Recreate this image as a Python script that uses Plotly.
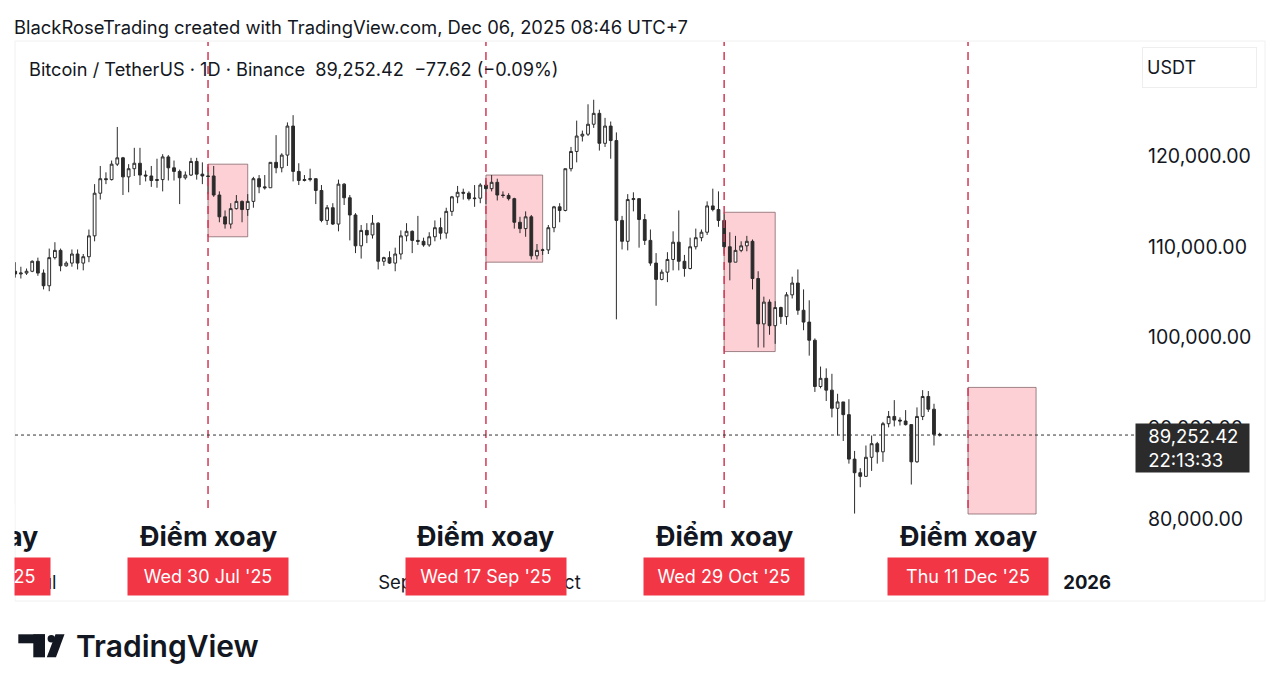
import pandas as pd
import plotly.graph_objects as go

# daily BTC/USDT candles (thousands of USDT), 26 Jun 2025 -> 6 Dec 2025
dates = pd.date_range("2025-06-26", "2025-12-06", freq="D")

open_k = [
    # Jun 26-30
    107.3, 107.0, 107.1, 107.3, 108.4,
    # Jul
    107.1, 105.7, 108.8, 109.6, 107.9, 108.2, 109.2, 108.2, 108.9, 111.2, 115.9, 117.5, 117.4, 119.1, 119.8, 117.7,
    118.6, 119.2, 117.9, 117.8, 117.3, 117.4, 119.9, 118.7, 118.3, 117.6, 117.9, 119.4, 118.0, 117.8, 117.8,
    # Aug
    115.7, 113.3, 112.5, 114.2, 115.0, 114.1, 115.0, 117.5, 116.6, 116.5, 119.3, 118.7, 120.1, 123.3, 118.3, 117.3,
    117.4, 117.5, 116.2, 112.9, 114.3, 112.5, 116.9, 115.4, 113.5, 110.1, 111.8, 111.3, 112.6, 108.4, 108.8,
    # Sep
    108.2, 109.2, 111.2, 111.7, 110.7, 110.6, 110.2, 111.1, 112.1, 111.5, 113.9, 115.5, 116.0, 115.9, 115.3,
    115.35, 116.8, 116.4, 117.1, 115.7, 115.65, 115.3, 112.7, 112.0, 113.3, 109.0, 109.6, 109.65, 112.1, 114.4,
    # Oct
    114.0, 118.6, 120.5, 122.2, 122.4, 123.5, 124.7, 121.4, 123.3, 121.7, 112.9, 110.6, 115.2, 115.3, 113.0, 110.7,
    108.2, 106.4, 107.2, 108.6, 110.5, 108.4, 107.6, 110.0, 111.0, 111.6, 114.5, 114.1, 112.9, 110.0, 108.3,
    # Nov
    109.6, 110.1, 110.6, 106.5, 101.5, 103.9, 101.3, 103.3, 102.3, 104.7, 106.0, 103.0, 101.7, 99.7, 94.6,
    95.5, 94.2, 92.2, 92.9, 91.5, 86.6, 85.1, 84.7, 86.8, 88.3, 87.4, 90.5, 91.3, 90.9, 90.8,
    # Dec 1-6
    90.4, 86.3, 91.3, 93.5, 92.1, 89.33004,
]
high_k = [
    108.3, 107.8, 107.6, 108.5, 108.8,
    107.5, 109.8, 110.5, 109.8, 108.4, 109.7, 109.7, 109.2, 111.9, 116.9, 118.9, 118.2, 119.5, 123.2, 119.9, 119.1,
    120.9, 120.9, 118.4, 118.9, 119.7, 120.2, 120.1, 119.5, 118.5, 118.3, 119.8, 119.8, 119.3, 118.8, 118.9,
    116.1, 114.0, 114.8, 115.7, 115.1, 115.8, 117.7, 117.9, 117.9, 119.3, 122.3, 120.3, 123.7, 124.5, 119.2, 117.9,
    118.6, 117.5, 116.8, 114.6, 114.8, 117.4, 117.0, 115.7, 113.7, 112.4, 112.6, 113.5, 112.7, 108.9, 109.5,
    109.9, 111.8, 112.6, 111.8, 113.4, 111.0, 111.6, 112.9, 113.2, 114.3, 115.6, 116.7, 116.4, 116.1, 116.8,
    117.0, 117.3, 117.9, 117.5, 116.1, 115.9, 115.4, 113.3, 113.9, 113.5, 110.3, 109.8, 112.4, 114.5, 114.8,
    118.6, 121.0, 123.9, 122.8, 125.7, 126.2, 125.1, 124.2, 123.8, 122.6, 113.4, 115.8, 116.0, 115.3, 113.6, 111.9,
    109.3, 107.5, 109.4, 111.7, 114.0, 109.1, 111.0, 112.0, 111.9, 115.0, 116.4, 116.1, 113.6, 111.6, 111.2,
    110.6, 111.2, 110.8, 107.3, 104.5, 104.2, 104.0, 103.4, 105.0, 106.7, 107.5, 105.3, 104.1, 99.9, 96.8,
    96.6, 96.0, 93.8, 92.9, 93.2, 87.5, 85.6, 88.1, 89.2, 88.5, 90.7, 91.9, 93.1, 91.2, 92.0,
    90.4, 92.3, 94.2, 94.1, 92.7, 89.5,
]
low_k = [
    106.6, 106.5, 106.9, 107.2, 106.8,
    105.3, 105.1, 108.6, 107.3, 107.8, 107.8, 107.5, 107.4, 108.3, 110.6, 115.2, 116.9, 117.3, 118.9, 115.7, 116.0,
    117.8, 116.8, 117.2, 116.6, 116.5, 116.1, 117.3, 117.3, 114.7, 117.4, 117.8, 117.4, 116.9, 115.8, 115.5,
    112.7, 112.0, 112.0, 114.1, 112.7, 113.4, 114.3, 115.9, 116.3, 116.5, 118.1, 118.2, 118.9, 117.2, 116.8, 117.2,
    117.2, 114.7, 112.7, 112.4, 112.4, 111.7, 114.6, 110.7, 109.3, 108.7, 110.4, 110.9, 107.5, 107.9, 108.1,
    107.3, 108.6, 110.6, 109.3, 110.2, 110.0, 110.0, 110.6, 110.8, 110.9, 113.4, 114.8, 115.2, 115.1, 114.4,
    114.8, 114.7, 116.1, 115.1, 115.4, 115.1, 112.0, 111.5, 111.1, 108.6, 108.6, 109.1, 109.2, 111.6, 112.7,
    113.9, 118.3, 119.3, 121.6, 122.2, 123.1, 120.6, 121.0, 119.7, 102.0, 109.7, 109.6, 113.9, 109.9, 110.2, 107.9,
    103.5, 106.3, 106.1, 107.4, 107.4, 106.7, 107.5, 109.7, 110.6, 111.3, 113.9, 112.2, 109.2, 106.3, 108.3,
    109.4, 109.5, 105.3, 98.9, 98.9, 100.3, 99.3, 101.5, 101.4, 104.3, 102.5, 100.8, 98.0, 94.0, 94.4,
    93.0, 91.2, 89.2, 88.6, 86.1, 80.6, 83.5, 84.7, 85.3, 86.1, 86.3, 90.1, 90.2, 90.3, 90.3,
    83.8, 86.2, 90.9, 91.8, 88.1, 89.1,
]
close_k = [
    107.0, 107.1, 107.3, 108.4, 107.1,
    105.7, 108.8, 109.6, 107.9, 108.2, 109.2, 108.2, 108.9, 111.2, 115.9, 117.5, 117.4, 119.1, 119.8, 117.7, 118.6,
    119.2, 117.9, 117.8, 117.3, 117.4, 119.9, 118.7, 118.3, 117.6, 117.9, 119.4, 118.0, 117.8, 117.75, 115.7,
    113.3, 112.5, 114.2, 115.0, 114.1, 115.0, 117.5, 116.6, 116.5, 119.3, 118.7, 120.1, 123.3, 118.3, 117.3, 117.4,
    117.5, 116.2, 112.9, 114.3, 112.5, 116.9, 115.4, 113.5, 110.1, 111.8, 111.3, 112.6, 108.4, 108.8, 108.2,
    109.2, 111.2, 111.7, 110.7, 110.6, 110.2, 111.1, 112.1, 111.5, 113.9, 115.5, 116.0, 115.9, 115.3, 115.35,
    116.8, 116.4, 117.1, 115.7, 115.65, 115.3, 112.7, 112.0, 113.3, 109.0, 109.6, 109.65, 112.1, 114.4, 114.0,
    118.6, 120.5, 122.2, 122.4, 123.5, 124.7, 121.4, 123.3, 121.7, 112.9, 110.6, 115.2, 115.3, 113.0, 110.7, 108.2,
    106.4, 107.2, 108.6, 110.5, 108.4, 107.6, 110.0, 111.0, 111.6, 114.5, 114.1, 112.9, 110.0, 108.3, 109.6,
    110.1, 110.6, 106.5, 101.5, 103.9, 101.3, 103.3, 102.3, 104.7, 106.0, 103.0, 101.7, 99.7, 94.6, 95.5,
    94.2, 92.2, 92.9, 91.5, 86.6, 85.1, 84.7, 86.8, 88.3, 87.4, 90.5, 91.3, 90.9, 90.8, 90.4,
    86.3, 91.3, 93.5, 92.1, 89.33004, 89.25242,
]
assert len(dates) == len(open_k) == len(high_k) == len(low_k) == len(close_k)

last_price = 89252.42

# pivot markers drawn on the chart
pivot_dates = ["2025-07-30", "2025-09-17", "2025-10-29", "2025-12-11"]
pivot_labels = ["Wed 30 Jul '25", "Wed 17 Sep '25", "Wed 29 Oct '25", "Thu 11 Dec '25"]
prev_pivot_date = "2025-06-18"
prev_pivot_label = "Wed 18 Jun '25"
pivot_text = "Điểm xoay"

zone_start = ["2025-07-30", "2025-09-17", "2025-10-29", "2025-12-11"]
zone_end = ["2025-08-06", "2025-09-27", "2025-11-07", "2025-12-23"]
zone_top = [119100, 117900, 113800, 94500]
zone_bottom = [111100, 108300, 98450, 80550]

month_ticks = ["2025-07-01", "2025-08-01", "2025-09-01", "2025-10-01", "2025-11-01", "2025-12-01", "2026-01-01"]
month_labels = ["Jul", "Aug", "Sep", "Oct", "Nov", "Dec", "<b>2026</b>"]
price_ticks = [80000, 90000, 100000, 110000, 120000]

FONT = "Inter, Roboto, sans-serif"
INK = "#131722"
RED = "#F23645"

x_range = [pd.Timestamp("2025-06-25 23:10"), pd.Timestamp("2026-01-09 10:35")]
y_range = [75262, 132562]


def px(x):
    return (x - 15) / 1120


def py(y):
    return (562 - y) / 520


def date_to_paper(d):
    d = pd.Timestamp(d)
    return (d - x_range[0]) / (x_range[1] - x_range[0])


fig = go.Figure(go.Candlestick(
    x=dates,
    open=[v * 1000 for v in open_k],
    high=[v * 1000 for v in high_k],
    low=[v * 1000 for v in low_k],
    close=[v * 1000 for v in close_k],
    increasing=dict(line=dict(color="#2b2b2b", width=1), fillcolor="#ffffff"),
    decreasing=dict(line=dict(color="#2b2b2b", width=1), fillcolor="#2b2b2b"),
    whiskerwidth=0,
    hoverinfo="skip",
    showlegend=False,
))

shapes = []
# frame
shapes.append(dict(type="rect", xref="paper", yref="paper", x0=px(15), x1=px(1265), y0=py(601), y1=py(41),
                   line=dict(color="#f0f0f0", width=1), layer="below"))
for x0, x1, y0, y1 in zip(zone_start, zone_end, zone_bottom, zone_top):
    shapes.append(dict(type="rect", xref="x", yref="y", x0=x0, x1=x1, y0=y0, y1=y1,
                       fillcolor="rgba(242,54,69,0.23)", line=dict(color="rgba(125,95,100,0.75)", width=1),
                       layer="below"))
for d in pivot_dates:
    shapes.append(dict(type="line", xref="x", yref="paper", x0=d, x1=d, y0=py(508), y1=1,
                       line=dict(color="#d23a55", width=1.5, dash="8px,6px"), layer="above"))
shapes.append(dict(type="line", xref="paper", yref="y", x0=0, x1=1, y0=last_price, y1=last_price,
                   line=dict(color="#333333", width=1, dash="dot"), layer="above"))

# TradingView logo mark
logo = "#131722"
shapes.append(dict(type="rect", xref="paper", yref="paper", x0=px(18.3), x1=px(45), y0=py(643.3), y1=py(634.3),
                   fillcolor=logo, line_width=0))
shapes.append(dict(type="rect", xref="paper", yref="paper", x0=px(33.3), x1=px(45), y0=py(657.3), y1=py(634.3),
                   fillcolor=logo, line_width=0))
shapes.append(dict(type="circle", xref="paper", yref="paper", x0=px(47.6), x1=px(55), y0=py(642.4), y1=py(635),
                   fillcolor=logo, line_width=0))
shapes.append(dict(type="path", xref="paper", yref="paper",
                   path=f"M {px(55.5)} {py(634.3)} L {px(64.5)} {py(634.3)} L {px(56)} {py(657.3)} "
                        f"L {px(46.8)} {py(657.3)} Z",
                   fillcolor=logo, line_width=0))

annotations = []
annotations.append(dict(xref="paper", yref="paper", x=px(12), y=py(27), xanchor="left", yanchor="middle",
                        text="BlackRoseTrading created with TradingView.com, Dec 06, 2025 08:46 UTC+7",
                        showarrow=False, font=dict(family=FONT, size=18.4, color=INK)))
annotations.append(dict(xref="paper", yref="paper", x=px(27), y=py(69), xanchor="left", yanchor="middle",
                        text="Bitcoin / TetherUS · 1D · Binance\u00a0\u00a089,252.42\u00a0\u00a0−77.62 (−0.09%)",
                        showarrow=False, font=dict(family=FONT, size=18.2, color=INK)))
annotations.append(dict(xref="paper", yref="paper", x=px(1142), y=py(67.5), xanchor="left", yanchor="middle",
                        text="USDT", align="left", width=105, height=31, borderpad=4,
                        bgcolor="#ffffff", bordercolor="#eeeeee", borderwidth=1,
                        showarrow=False, font=dict(family=FONT, size=18, color=INK)))
annotations.append(dict(xref="paper", yref="y", x=px(1135), y=last_price, xanchor="left", yanchor="top",
                        yshift=12, text="\u200289,252.42<br>\u200222:13:33", align="left",
                        width=107, height=42, borderpad=3,
                        bgcolor="#2b2b2b", showarrow=False, font=dict(family=FONT, size=18.5, color="#ffffff")))

# previous pivot, mostly off the left edge
prev_x = date_to_paper(prev_pivot_date)
annotations.append(dict(xref="paper", yref="paper", x=prev_x, y=py(536), xanchor="center", yanchor="middle",
                        text=f"<b>{pivot_text}</b>", showarrow=False, font=dict(family=FONT, size=27, color=INK)))
annotations.append(dict(xref="paper", yref="paper", x=prev_x, y=py(576.5), xanchor="center", yanchor="middle",
                        text=prev_pivot_label, width=152, height=29, borderpad=4, bgcolor=RED,
                        showarrow=False, font=dict(family=FONT, size=18, color="#ffffff")))
for d, lab in zip(pivot_dates, pivot_labels):
    annotations.append(dict(xref="x", yref="paper", x=d, y=py(536), xanchor="center", yanchor="middle",
                            text=f"<b>{pivot_text}</b>", showarrow=False,
                            font=dict(family=FONT, size=27, color=INK)))
    annotations.append(dict(xref="x", yref="paper", x=d, y=py(576.5), xanchor="center", yanchor="middle",
                            text=lab, width=152, height=29, borderpad=4, bgcolor=RED,
                            showarrow=False, font=dict(family=FONT, size=18, color="#ffffff")))
# white margin left of the pane
annotations.append(dict(xref="paper", yref="paper", x=px(15), y=py(560), xanchor="right", yanchor="middle",
                        text=" ", width=15, height=110, borderpad=0, bgcolor="#ffffff", showarrow=False))
annotations.append(dict(xref="paper", yref="paper", x=px(74), y=py(646), xanchor="left", yanchor="middle",
                        text="TradingView", showarrow=False,
                        font=dict(family=FONT, size=30, color=INK, weight=600)))

fig.update_layout(
    width=1280, height=693,
    margin=dict(l=15, r=145, t=42, b=131, pad=0),
    paper_bgcolor="#ffffff", plot_bgcolor="#ffffff",
    font=dict(family=FONT, size=18, color=INK),
    hovermode=False,
    shapes=shapes,
    annotations=annotations,
    xaxis=dict(type="date", range=x_range, rangeslider=dict(visible=False),
               tickvals=month_ticks, ticktext=month_labels, ticks="", ticklabelstandoff=7,
               tickfont=dict(family=FONT, size=18.5, color=INK),
               showgrid=False, zeroline=False, showline=False, fixedrange=True),
    yaxis=dict(side="right", range=y_range, tickvals=price_ticks, tickformat=",.2f", ticks="",
               ticklabelstandoff=12, tickfont=dict(family=FONT, size=19.5, color=INK),
               showgrid=False, zeroline=False, showline=False, fixedrange=True),
)

fig.write_html("out.html", config={"displayModeBar": False},
               post_script="document.body.style.margin='0px';")
